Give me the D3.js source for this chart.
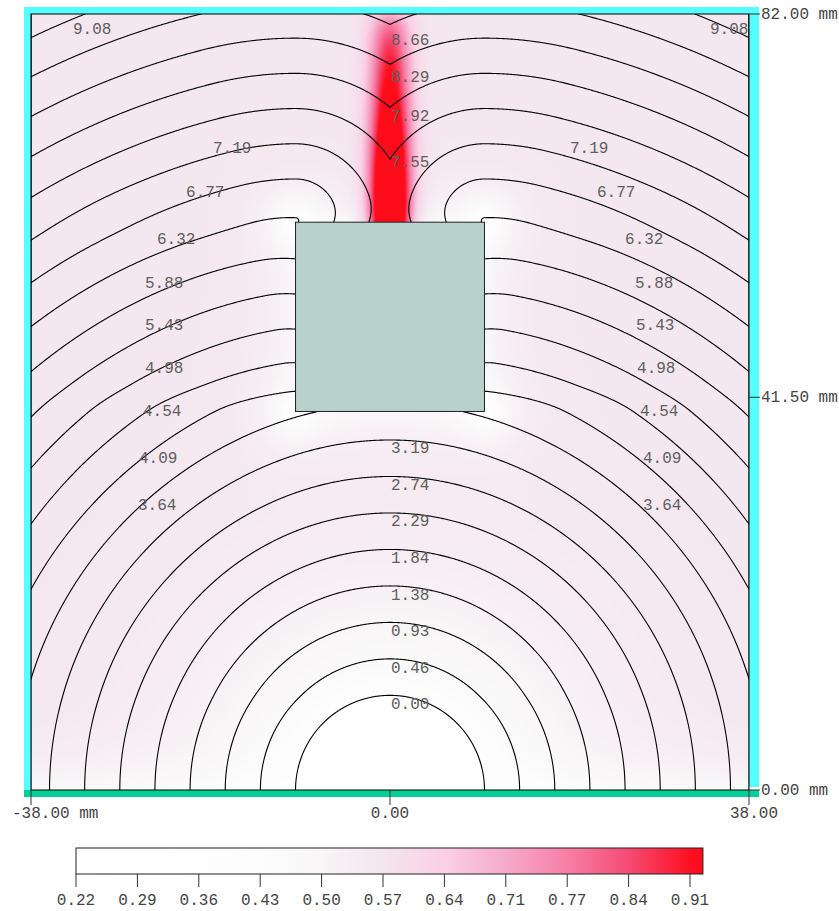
<!DOCTYPE html>
<html>
<head>
<meta charset="utf-8">
<script src="https://cdn.jsdelivr.net/npm/d3@7"></script>
<style>
    body { margin: 0; background: #fff; }
    svg { display: block; }
    text { font-family: "Liberation Mono", "DejaVu Sans Mono", monospace; }
</style>
</head>
<body>
<svg id="chart" width="839" height="911"></svg>
<script>
// model geometry (mm)
var xDomain = [-38, 38];
var yDomain = [0, 82];
var electrodeR = 10;              // half disc at the origin, level 0
var block = [-10, 40, 10, 60];    // x0, y0, x1, y1

// contour levels
var levels = [0, 0.454, 0.908, 1.362, 1.816, 2.27, 2.724, 3.178, 3.632, 4.086, 4.54,
    4.994, 5.448, 5.902, 6.356, 6.81, 7.264, 7.718, 8.172, 8.626, 9.08, 9.534];
var mmPerLevel = 3.72;

// axis ticks
var xTickValues = [-38, 0, 38];
var xTickText = ["-38.00 mm", "0.00", "38.00"];
var yTickValues = [0, 41.5, 82];
var yTickText = ["0.00 mm", "41.50 mm", "82.00 mm"];

// colour bar
var cbTicks = [0.2245, 0.2933, 0.3621, 0.4309, 0.4997, 0.5685, 0.6373, 0.7061, 0.7749, 0.8437, 0.9125];
var cbMax = 0.927;
var stopValues = [0.2245, 0.4309, 0.4997, 0.5685, 0.6373, 0.7061, 0.7749, 0.8437, 0.9125, 0.927];
var stopColors = ["#ffffff", "#fdfdfd", "#f8f6f7", "#f4e5ee", "#fbd0e4", "#f5aac9", "#f77fa7", "#f44b72", "#fe1022", "#ff0c1a"];

// contour labels (text start, baseline, in mm)
var labelText = ["9.08", "9.08", "8.66", "8.29", "7.92", "7.55", "7.19", "7.19", "6.77", "6.77",
    "6.32", "6.32", "5.88", "5.88", "5.43", "5.43", "4.98", "4.98", "4.54", "4.54",
    "4.09", "4.09", "3.64", "3.64", "3.19", "2.74", "2.29", "1.84", "1.38", "0.93", "0.46", "0.00"];
var labelX = [-33.56, 33.87, 0.1, 0.1, 0.1, 0.1, -18.74, 19.05, -21.59, 21.91,
    -24.66, 24.88, -25.93, 25.93, -25.93, 26.04, -25.93, 26.15, -26.15, 26.46,
    -26.57, 26.78, -26.68, 26.78, 0.1, 0.1, 0.1, 0.1, 0.1, 0.1, 0.1, 0.1];
var labelY = [79.89, 79.89, 78.73, 74.82, 70.69, 65.83, 67.31, 67.31, 62.67, 62.67,
    57.70, 57.70, 53.05, 53.05, 48.61, 48.61, 44.07, 44.07, 39.52, 39.52,
    34.56, 34.56, 29.59, 29.59, 35.61, 31.70, 27.90, 23.99, 20.08, 16.27, 12.36, 8.56];

var svg = d3.select("#chart");
var x = d3.scaleLinear().domain(xDomain).range([31, 749]);
var y = d3.scaleLinear().domain(yDomain).range([790, 14]);

// ---- travel distance from the half disc, going round the block ----
var bl = [block[0], block[1]], br = [block[2], block[1]];
var tl = [block[0], block[3]], tr = [block[2], block[3]];
var preBottom = Math.hypot(bl[0], bl[1]) - electrodeR;
var preTop = preBottom + (block[3] - block[1]);
var corners = [
    { c: bl, pre: preBottom }, { c: br, pre: preBottom },
    { c: tl, pre: preTop }, { c: tr, pre: preTop }
];

function blocked(ax, ay, bx, by) {
    var e = 1e-7, t0 = 0, t1 = 1, dx = bx - ax, dy = by - ay;
    var p = [-dx, dx, -dy, dy];
    var q = [ax - (block[0] + e), (block[2] - e) - ax, ay - (block[1] + e), (block[3] - e) - ay];
    for (var k = 0; k < 4; k++) {
        if (p[k] == 0) {
            if (q[k] < 0) return false;
        } else {
            var t = q[k] / p[k];
            if (p[k] < 0) t0 = Math.max(t0, t); else t1 = Math.min(t1, t);
        }
    }
    return t0 < t1;
}

function travel(px, py) {
    if (px > block[0] && px < block[2] && py > block[1] && py < block[3]) {
        var dl = px - block[0], dr = block[2] - px, db = py - block[1], dt = block[3] - py;
        var m = Math.min(dl, dr, db, dt);
        if (m == dl) px = block[0]; else if (m == dr) px = block[2]; else if (m == db) py = block[1]; else py = block[3];
    }
    var best = Infinity;
    if (!blocked(0, 0, px, py)) best = Math.hypot(px, py) - electrodeR;
    corners.forEach(function (k) {
        if (!blocked(k.c[0], k.c[1], px, py)) {
            best = Math.min(best, k.pre + Math.hypot(px - k.c[0], py - k.c[1]));
        }
    });
    return best;
}

// the block pushes the lines below it up and holds them back along its sides
function blockShift(px, py) {
    var ax = Math.abs(px);
    var below = -1.05 * Math.max(0, Math.min(py - electrodeR, 30)) / 30
        * Math.exp(-(px * px) / (25 * 25))
        * (py > block[1] ? Math.exp(-Math.pow((py - block[1]) / 4, 2)) : 1);
    var win;
    if (py < block[1]) win = 0;
    else if (py < block[1] + 3) win = 0.5 - 0.5 * Math.cos(Math.PI * (py - block[1]) / 3);
    else if (py < block[3] - 2) win = 1;
    else win = Math.exp(-Math.pow((py - (block[3] - 2)) / 2.5, 2));
    var side = Math.exp(-Math.max(0, ax - block[2]) / 12) * win;
    return below + side;
}

function boxDist(px, py) {
    var dx = Math.max(block[0] - px, 0, px - block[2]);
    var dy = Math.max(block[1] - py, 0, py - block[3]);
    return Math.hypot(dx, dy);
}

// shading value for a point (same units as the colour bar)
var halfW = (block[2] - block[0]) / 2;
function shade(px, py) {
    var r = Math.hypot(px, py);
    if (r < electrodeR) return cbTicks[0];
    var v = 0.562;
    v -= 0.15 * Math.exp(-(r - electrodeR) / 9);
    v -= 0.08 * Math.exp(-py / 2.5);
    v -= 0.07 * Math.exp(-boxDist(px, py) / 3);
    var dc = d3.min(corners, function (k) { return Math.hypot(px - k.c[0], py - k.c[1]); });
    v -= 0.2 * Math.exp(-dc / 1.5);
    if (py > block[3]) {
        var h = py - block[3];
        var s = halfW / Math.hypot(halfW, h);
        var fade = 1 - 0.6 * Math.exp(-(yDomain[1] - py) / 1.5);
        v += 0.68 * s * fade * Math.exp(-px * px / (2 * 1.55 * 1.55));
    }
    return v;
}

var color = d3.scaleLinear().domain(stopValues).range(stopColors).clamp(true);

// ---- field image ----
var x0 = x(xDomain[0]), y0 = y(yDomain[1]);
var W = Math.round(x(xDomain[1]) - x0), H = Math.round(y(yDomain[0]) - y0);
var canvas = document.createElement("canvas");
canvas.width = W;
canvas.height = H;
var ctx = canvas.getContext("2d");
var img = ctx.createImageData(W, H);
var lut = d3.range(512).map(function (i) {
    return d3.rgb(color(stopValues[0] + (cbMax - stopValues[0]) * i / 511));
});
for (var j = 0; j < H; j++) {
    var my = y.invert(y0 + j + 0.5);
    for (var i = 0; i < W; i++) {
        var mx = x.invert(x0 + i + 0.5);
        var v = shade(mx, my);
        var li = Math.max(0, Math.min(511, Math.round((v - stopValues[0]) / (cbMax - stopValues[0]) * 511)));
        var c = lut[li], o = (j * W + i) * 4;
        img.data[o] = c.r; img.data[o + 1] = c.g; img.data[o + 2] = c.b; img.data[o + 3] = 255;
    }
}
ctx.putImageData(img, 0, 0);
svg.append("image")
    .attr("x", x0).attr("y", y0)
    .attr("width", W).attr("height", H)
    .attr("preserveAspectRatio", "none")
    .attr("href", canvas.toDataURL());

// ---- contours ----
var nx = W + 1, ny = H + 1;
var values = new Float64Array(nx * ny);
var k = levels[1] / mmPerLevel;
for (var j = 0; j < ny; j++) {
    var my = y.invert(y0 + j);
    for (var i = 0; i < nx; i++) {
        var mx = x.invert(x0 + i);
        values[j * nx + i] = k * (travel(mx, my) + blockShift(mx, my));
    }
}
var gx = d3.scaleLinear().domain([0.5, nx - 0.5]).range(xDomain);
var gy = d3.scaleLinear().domain([0.5, ny - 0.5]).range([yDomain[1], yDomain[0]]);
var path = d3.geoPath(d3.geoTransform({
    point: function (px, py) { this.stream.point(x(gx(px)), y(gy(py))); }
}));
var contours = d3.contours().size([nx, ny]).thresholds(levels)(values);

svg.append("defs").append("clipPath").attr("id", "plotClip")
    .append("rect")
    .attr("x", x0).attr("y", y0).attr("width", W).attr("height", H);

svg.append("g")
    .attr("clip-path", "url(#plotClip)")
    .selectAll("path")
    .data(contours)
    .join("path")
    .attr("d", path)
    .attr("fill", "none")
    .attr("stroke", "#000")
    .attr("stroke-width", 1.1);

// block
svg.append("rect")
    .attr("x", x(block[0])).attr("y", y(block[3]))
    .attr("width", x(block[2]) - x(block[0]))
    .attr("height", y(block[1]) - y(block[3]))
    .attr("fill", "#b8d1cb")
    .attr("stroke", "#222")
    .attr("stroke-width", 1);

// contour labels
svg.append("g").selectAll("text")
    .data(labelText)
    .join("text")
    .attr("x", function (d, i) { return x(labelX[i]); })
    .attr("y", function (d, i) { return y(labelY[i]); })
    .attr("font-size", 16)
    .attr("fill", "#5e5e5e")
    .text(function (d) { return d; });

// boundary strips
var strips = svg.append("g");
strips.append("rect").attr("x", x0 - 7).attr("y", y0 - 7).attr("width", 7).attr("height", H + 7).attr("fill", "#55ffff");
strips.append("rect").attr("x", x0 - 7).attr("y", y0 - 7).attr("width", W + 17).attr("height", 7).attr("fill", "#55ffff");
strips.append("rect").attr("x", x0 + W).attr("y", y0 - 7).attr("width", 10).attr("height", H + 4).attr("fill", "#55ffff");
strips.append("rect").attr("x", x0 - 7).attr("y", y0 + H).attr("width", W + 17).attr("height", 7).attr("fill", "#05cf96");
svg.append("rect")
    .attr("x", x0).attr("y", y0).attr("width", W).attr("height", H)
    .attr("fill", "none").attr("stroke", "#000").attr("stroke-width", 1);

// axes
var axisG = svg.append("g").attr("fill", "#444").attr("font-size", 16);
xTickValues.forEach(function (t, i) {
    axisG.append("line")
        .attr("x1", x(t)).attr("x2", x(t))
        .attr("y1", y(0)).attr("y2", y(0) + 15)
        .attr("stroke", "#333");
});
axisG.append("text").attr("x", 12).attr("y", 818).text(xTickText[0]);
axisG.append("text").attr("x", x(0)).attr("y", 818).attr("text-anchor", "middle").text(xTickText[1]);
axisG.append("text").attr("x", x(38) + 5).attr("y", 818).attr("text-anchor", "middle").text(xTickText[2]);
yTickValues.forEach(function (t, i) {
    axisG.append("line")
        .attr("x1", x(38)).attr("x2", x(38) + 11)
        .attr("y1", y(t)).attr("y2", y(t))
        .attr("stroke", "#333");
    axisG.append("text")
        .attr("x", x(38) + 12)
        .attr("y", y(t) + 5)
        .text(yTickText[i]);
});

// colour bar
var cb = d3.scaleLinear().domain([cbTicks[0], cbTicks[cbTicks.length - 1]]).range([76, 690]);
var grad = svg.select("defs").append("linearGradient").attr("id", "cbGrad");
stopValues.forEach(function (v, i) {
    grad.append("stop")
        .attr("offset", (v - cbTicks[0]) / (cbMax - cbTicks[0]))
        .attr("stop-color", stopColors[i]);
});
svg.append("rect")
    .attr("x", cb(cbTicks[0])).attr("y", 848)
    .attr("width", cb(cbMax) - cb(cbTicks[0])).attr("height", 26)
    .attr("fill", "url(#cbGrad)")
    .attr("stroke", "#222");
var cbAxis = svg.append("g");
cbTicks.forEach(function (t) {
    cbAxis.append("line")
        .attr("x1", cb(t)).attr("x2", cb(t))
        .attr("y1", 874).attr("y2", 887)
        .attr("stroke", "#333");
    cbAxis.append("text")
        .attr("x", cb(t)).attr("y", 905)
        .attr("text-anchor", "middle")
        .attr("font-size", 16)
        .attr("fill", "#444")
        .text(d3.format(".2f")(t));
});
</script>
</body>
</html>
